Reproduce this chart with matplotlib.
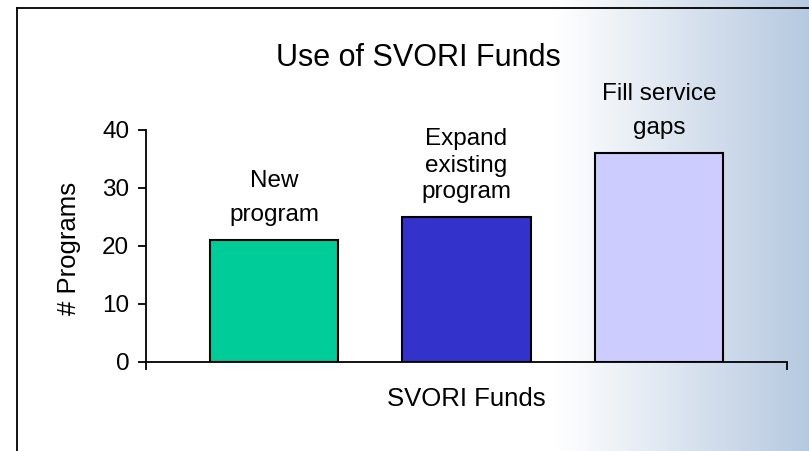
import numpy as np
import matplotlib.pyplot as plt
from matplotlib.lines import Line2D

plt.rcParams['font.family'] = ['Liberation Sans', 'DejaVu Sans']

# data
categories = ["New\nprogram", "Expand\nexisting\nprogram", "Fill service\ngaps"]
programs = [21, 25, 36]
bar_colors = ["#00CC99", "#3333CC", "#CCCCFF"]
y_ticks = [0, 10, 20, 30, 40]

# label line spacing differs per bar in the original
label_spacing = [1.72, 1.27, 1.75]

fig = plt.figure(figsize=(8.09, 4.51), dpi=100)
fig.patch.set_facecolor("white")

# background: white fading into light steel blue on the right
bg = fig.add_axes([0, 0, 1, 1], zorder=-1)
W = 809
t = np.clip((np.arange(W) - 555) / (W - 555), 0, 1)
left_c = np.array([1.0, 1.0, 1.0])
right_c = np.array([182, 201, 224]) / 255
grad = left_c[None, :] * (1 - t[:, None]) + right_c[None, :] * t[:, None]
bg.imshow(grad[None, :, :], aspect="auto", extent=[0, 1, 0, 1])
bg.set_xlim(0, 1)
bg.set_ylim(0, 1)
bg.axis("off")

# frame lines (left and top)
fx = 16.5 / W
fy = 1 - 7.5 / 451
fig.add_artist(Line2D([fx, fx], [0, fy], color="black", lw=1.3, transform=fig.transFigure))
fig.add_artist(Line2D([fx, 1], [fy, fy], color="black", lw=1.3, transform=fig.transFigure))

ax = fig.add_axes([146 / W, 1 - 362 / 451, (787 - 146) / W, (362 - 130) / 451])
ax.patch.set_alpha(0)

x = np.arange(len(programs))
bars = ax.bar(x, programs, width=2 / 3, color=bar_colors, edgecolor="black", linewidth=1.5, zorder=3)

for xi, val, lab, ls in zip(x, programs, categories, label_spacing):
    ax.annotate(lab, (xi, val), xytext=(0, 10), textcoords="offset points",
                ha="center", va="bottom", fontsize=17.5, linespacing=ls)

ax.set_xlim(-2 / 3, len(programs) - 1 + 2 / 3)
ax.set_ylim(0, 40)
ax.set_yticks(y_ticks)
ax.set_xticks([-2 / 3, len(programs) - 1 + 2 / 3])
ax.set_xticklabels([])
ax.tick_params(axis="both", direction="out", length=6, width=1.3, colors="black", labelsize=17.5)
ax.tick_params(axis="y", pad=6)
for s in ["top", "right"]:
    ax.spines[s].set_visible(False)
for s in ["left", "bottom"]:
    ax.spines[s].set_linewidth(1.3)

fig.text(418 / W, 1 - 58 / 451, "Use of SVORI Funds", ha="center", va="center", fontsize=22)
fig.text(466 / W, 1 - 399 / 451, "SVORI Funds", ha="center", va="center", fontsize=18.5)
fig.text(69 / W, 1 - 248 / 451, "# Programs", ha="center", va="center", rotation=90, fontsize=18.5)

fig.savefig("out.png", dpi=100)
